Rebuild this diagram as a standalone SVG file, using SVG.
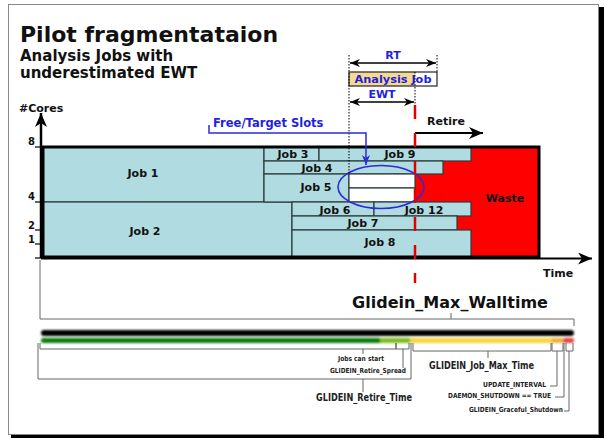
<svg xmlns="http://www.w3.org/2000/svg" width="606" height="438" viewBox="0 0 606 438">
<defs>
<style>
text{font-family:"DejaVu Sans","Liberation Sans",sans-serif;font-weight:bold;fill:#111}
.job{fill:#b0dce1;stroke:#2b3b3b;stroke-width:1.2}
.jl{font-size:11px;text-anchor:middle}
.blue{fill:#1f1fe0}
.dot{stroke:#000;stroke-width:1;stroke-dasharray:1.5,1.5;fill:none}
.br{stroke:#666;stroke-width:1;fill:none}
.sm{font-size:7px;fill:#222}
.md{font-size:10px;fill:#222}
.tick{stroke:#000;stroke-width:1.2}
.tl{font-size:10px;text-anchor:end}
</style>
<marker id="dart" viewBox="0 0 10 8" refX="10" refY="4" markerWidth="10" markerHeight="8" markerUnits="userSpaceOnUse" orient="auto-start-reverse">
<path d="M0,0 L10,4 L0,8 L3,4 z" fill="#000"/>
</marker>
<marker id="big" viewBox="0 0 14 12" refX="14" refY="6" markerWidth="14" markerHeight="12" markerUnits="userSpaceOnUse" orient="auto">
<path d="M0,0 L14,6 L0,12 L4,6 z" fill="#000"/>
</marker>
<marker id="blueh" viewBox="0 0 10 8" refX="10" refY="4" markerWidth="10" markerHeight="8" markerUnits="userSpaceOnUse" orient="auto">
<path d="M0,0 L10,4 L0,8 L3,4 z" fill="#2b2bd8"/>
</marker>
<filter id="soft" x="-5%" y="-100%" width="110%" height="300%">
<feGaussianBlur stdDeviation="0.8"/>
</filter>
</defs>

<!-- frame -->
<rect x="11" y="7" width="593" height="431" fill="#000"/>
<rect x="8.5" y="4.5" width="590" height="430" fill="#fff" stroke="#888" stroke-width="1"/>

<g id="title">
<text x="20" y="42" font-size="22">Pilot fragmentataion</text>
<text x="20" y="61" font-size="15">Analysis Jobs with</text>
<text x="20" y="78" font-size="15">underestimated EWT</text>
</g>

<!-- waste and jobs -->
<g id="waste">
<rect x="415" y="147" width="124" height="110" fill="#ff0000"/>
<text x="505" y="202" class="jl">Waste</text>
</g>
<g id="job1"><rect class="job" x="43" y="147" width="221" height="55"/><text class="jl" x="143" y="177">Job 1</text></g>
<g id="job2"><rect class="job" x="43" y="202" width="249" height="55"/><text class="jl" x="145" y="235">Job 2</text></g>
<g id="job3"><rect class="job" x="264" y="147" width="55" height="14"/><text class="jl" x="293" y="158">Job 3</text></g>
<g id="job9"><rect class="job" x="319" y="147" width="152" height="14"/><text class="jl" x="400" y="158">Job 9</text></g>
<g id="job4"><rect class="job" x="264" y="161" width="179" height="13"/><text class="jl" x="317" y="172">Job 4</text></g>
<g id="job5"><rect class="job" x="264" y="174" width="85" height="28"/><text class="jl" x="316" y="191">Job 5</text></g>
<g id="slots">
<rect x="349" y="174" width="66" height="14" fill="#fff" stroke="#2b3b3b" stroke-width="1.2"/>
<rect x="349" y="188" width="66" height="14" fill="#fff" stroke="#2b3b3b" stroke-width="1.2"/>
</g>
<g id="job6"><rect class="job" x="292" y="202" width="82" height="14"/><text class="jl" x="335" y="214">Job 6</text></g>
<g id="job12"><rect class="job" x="374" y="202" width="97" height="14"/><text class="jl" x="424" y="214">Job 12</text></g>
<g id="job7"><rect class="job" x="292" y="216" width="165" height="14"/><text class="jl" x="363" y="227">Job 7</text></g>
<g id="job8"><rect class="job" x="292" y="230" width="179" height="27"/><text class="jl" x="380" y="246">Job 8</text></g>

<g id="chart-border">
<rect x="43" y="147" width="496" height="110" fill="none" stroke="#000" stroke-width="3"/>
</g>

<g id="axes">
<line x1="41" y1="258" x2="41" y2="113" stroke="#000" stroke-width="2.5" marker-end="url(#big)"/>
<line x1="41" y1="258.5" x2="592" y2="258.5" stroke="#000" stroke-width="2" marker-end="url(#big)"/>
<text x="19" y="112" font-size="11">#Cores</text>
<text x="543" y="277" font-size="11">Time</text>
<line class="tick" x1="35" y1="147" x2="41" y2="147"/><text class="tl" x="35" y="145">8</text>
<line class="tick" x1="35" y1="202" x2="41" y2="202"/><text class="tl" x="35" y="200">4</text>
<line class="tick" x1="35" y1="230" x2="41" y2="230"/><text class="tl" x="35" y="229">2</text>
<line class="tick" x1="35" y1="244" x2="41" y2="244"/><text class="tl" x="35" y="243">1</text>
<line class="tick" x1="35" y1="258" x2="41" y2="258"/>
</g>

<g id="free-slots">
<ellipse cx="381" cy="187" rx="43" ry="21.5" fill="none" stroke="#2b2bd8" stroke-width="1.6"/>
<text x="213" y="127" font-size="11.5" class="blue">Free/Target Slots</text>
</g>

<g id="analysis-job">
<rect x="349" y="72" width="66" height="14" fill="#f7d98e"/>
<rect x="349" y="72" width="88" height="14" fill="none" stroke="#222" stroke-width="1.2"/>
<text x="393" y="83" font-size="11.3" text-anchor="middle" class="blue">Analysis Job</text>
<text x="393" y="59" font-size="11" text-anchor="middle" class="blue">RT</text>
<text x="382" y="98" font-size="11" text-anchor="middle" class="blue">EWT</text>
</g>

<g id="retire">
<text x="427" y="125" font-size="11">Retire</text>
</g>

<g id="connectors">
<line class="dot" x1="349" y1="55" x2="349" y2="174"/>
<line class="dot" x1="437" y1="55" x2="437" y2="72"/>
<line class="dot" x1="415" y1="72" x2="415" y2="105"/>
<line x1="350" y1="63" x2="436" y2="63" stroke="#000" stroke-width="1.3" marker-start="url(#dart)" marker-end="url(#dart)"/>
<line x1="350" y1="102" x2="414" y2="102" stroke="#000" stroke-width="1.3" marker-start="url(#dart)" marker-end="url(#dart)"/>
<line x1="415" y1="133" x2="483" y2="133" stroke="#000" stroke-width="2" marker-end="url(#big)"/>
<path d="M209,125 V133 H366 V165" fill="none" stroke="#2b2bd8" stroke-width="1.5" marker-end="url(#blueh)"/>
<line x1="415" y1="105" x2="415" y2="283" stroke="#e00000" stroke-width="2.5" stroke-dasharray="14,14"/>
</g>

<!-- timeline -->
<g id="timeline-bars" filter="url(#soft)">
<rect x="41" y="330" width="533" height="6" rx="3" fill="#000"/>
<rect x="41" y="338" width="355" height="5" rx="2" fill="#0b7a0b"/>
<rect x="380" y="338" width="30" height="5" fill="#7cbd25"/>
<rect x="410" y="338" width="142" height="5" fill="#f4d640"/>
<rect x="552" y="338" width="11" height="5" fill="#f0ae45"/>
<rect x="563" y="338" width="11" height="5" rx="2" fill="#e04848"/>
</g>

<g id="max-walltime">
<path class="br" d="M40,260 V319 H574 V326 M451,313 V319"/>
<text x="450" y="308" font-size="16" text-anchor="middle">Glidein_Max_Walltime</text>
</g>
<g id="jobs-can-start">
<path class="br" d="M40,343 V349 H396 V343 M363,349 V354"/>
<text class="sm" x="361" y="361" text-anchor="middle" textLength="46" lengthAdjust="spacingAndGlyphs">Jobs can start</text>
</g>
<g id="retire-spread">
<path class="br" d="M396,343 V349 H409 V343 M403,349 V368"/>
<text class="sm" x="330" y="373" textLength="76" lengthAdjust="spacingAndGlyphs">GLIDEIN_Retire_Spread</text>
</g>
<g id="retire-time">
<path class="br" d="M38,343 V379 H411 V343 M363,379 V392"/>
<text class="md" x="316" y="401" textLength="96" lengthAdjust="spacingAndGlyphs">GLIDEIN_Retire_Time</text>
</g>
<g id="job-max-time">
<path class="br" d="M413,343 V351 H551 V343 M488,351 V358"/>
<text class="md" x="429" y="369" font-size="10.5" textLength="105" lengthAdjust="spacingAndGlyphs">GLIDEIN_Job_Max_Time</text>
</g>
<g id="update-interval">
<path class="br" d="M552,343 V351 H563 V343 M557,351 V386 H550"/>
<text class="sm" x="483" y="387" textLength="63" lengthAdjust="spacingAndGlyphs">UPDATE_INTERVAL</text>
</g>
<g id="daemon-shutdown">
<path class="br" d="M564,343 V397 H555"/>
<text class="sm" x="448" y="398" textLength="103" lengthAdjust="spacingAndGlyphs">DAEMON_SHUTDOWN == TRUE</text>
</g>
<g id="graceful-shutdown">
<path class="br" d="M566,343 V351 H573 V343 M569,351 V411 H564"/>
<text class="sm" x="469" y="412" textLength="94" lengthAdjust="spacingAndGlyphs">GLIDEIN_Graceful_Shutdown</text>
</g>
</svg>
